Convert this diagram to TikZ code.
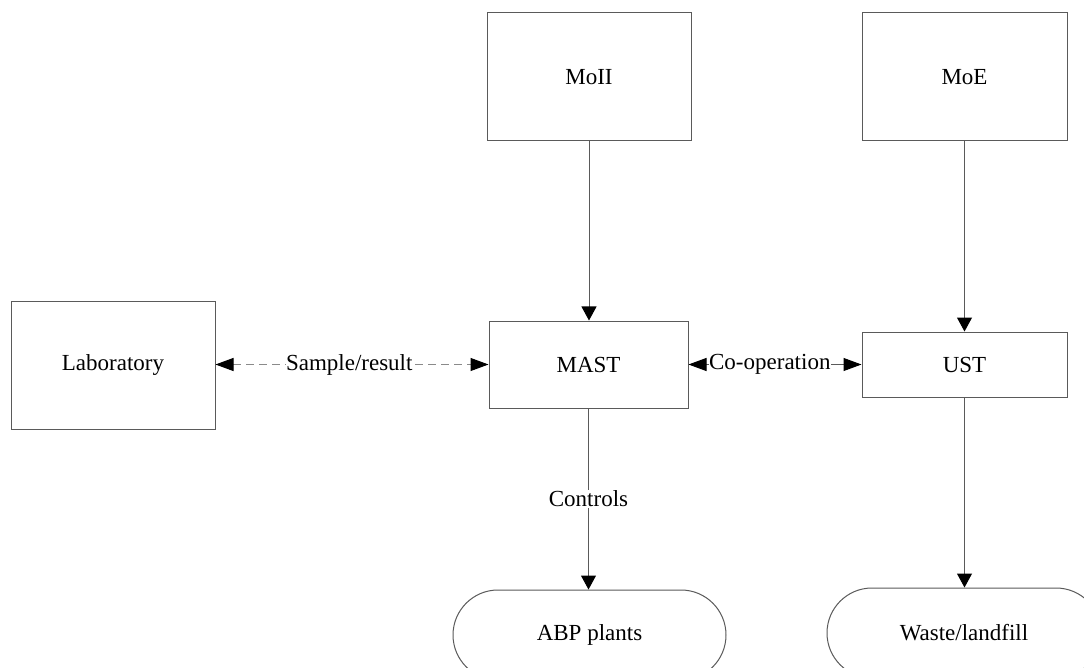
\documentclass[tikz,border=0pt]{standalone}
\usepackage{fontspec}
\setmainfont{Liberation Serif}
\usetikzlibrary{arrows.meta}
\definecolor{edge}{HTML}{5A5A5A}
\definecolor{dashc}{HTML}{8A8A8A}
\begin{document}
\begin{tikzpicture}[x=1pt,y=-1pt,
  every node/.style={font=\fontsize{23}{26}\selectfont},
  box/.style={draw=edge, line width=1pt, fill=white, inner sep=0pt},
  term/.style={box, rounded corners=45pt},
  vtip/.style={-{Triangle[length=14pt,width=15pt,color=black,fill=black]}},
  htip/.style={{Triangle[length=18pt,width=13pt,color=black,fill=black]}-{Triangle[length=18pt,width=13pt,color=black,fill=black]}},
  conn/.style={draw=edge, line width=1pt},
  lbl/.style={fill=white, inner sep=0.5pt}]
\path[use as bounding box, clip] (0,0) rectangle (1084,668);
\fill[white] (0,0) rectangle (1084,668);

\node[box, minimum width=204pt, minimum height=128pt] (moii) at (589,77) {MoII};
\node[box, minimum width=205pt, minimum height=128pt] (moe) at (964.5,77) {MoE};
\node[box, minimum width=199pt, minimum height=87pt] (mast) at (588.5,364.5) {MAST};
\node[box, minimum width=205pt, minimum height=65pt] (ust) at (964.5,364.5) {UST};
\node[box, minimum width=204pt, minimum height=127pt] (lab) at (113,365.5) {Laboratory};
\node[term, minimum width=273pt, minimum height=90pt] (abp) at (589.5,635) {ABP plants};
\node[term, minimum width=274pt, minimum height=90pt] (waste) at (964,633) {Waste/landfill};

\draw[conn, vtip] (moii.south) -- (moii.south |- mast.north);
\draw[conn, vtip] (moe.south) -- (moe.south |- ust.north);
\draw[conn, vtip] (mast.south) -- node[lbl] {Controls} (mast.south |- abp.north);
\draw[conn, vtip] (ust.south) -- (ust.south |- waste.north);
\draw[conn, htip] (mast.east) -- node[lbl, pos=0.47] {Co-operation} (mast.east -| ust.west);
\draw[draw=dashc, line width=1pt, dash pattern=on 8pt off 5pt, htip] (lab.east |- mast.west) -- node[lbl, pos=0.49] {Sample/result} (mast.west);
\end{tikzpicture}
\end{document}
